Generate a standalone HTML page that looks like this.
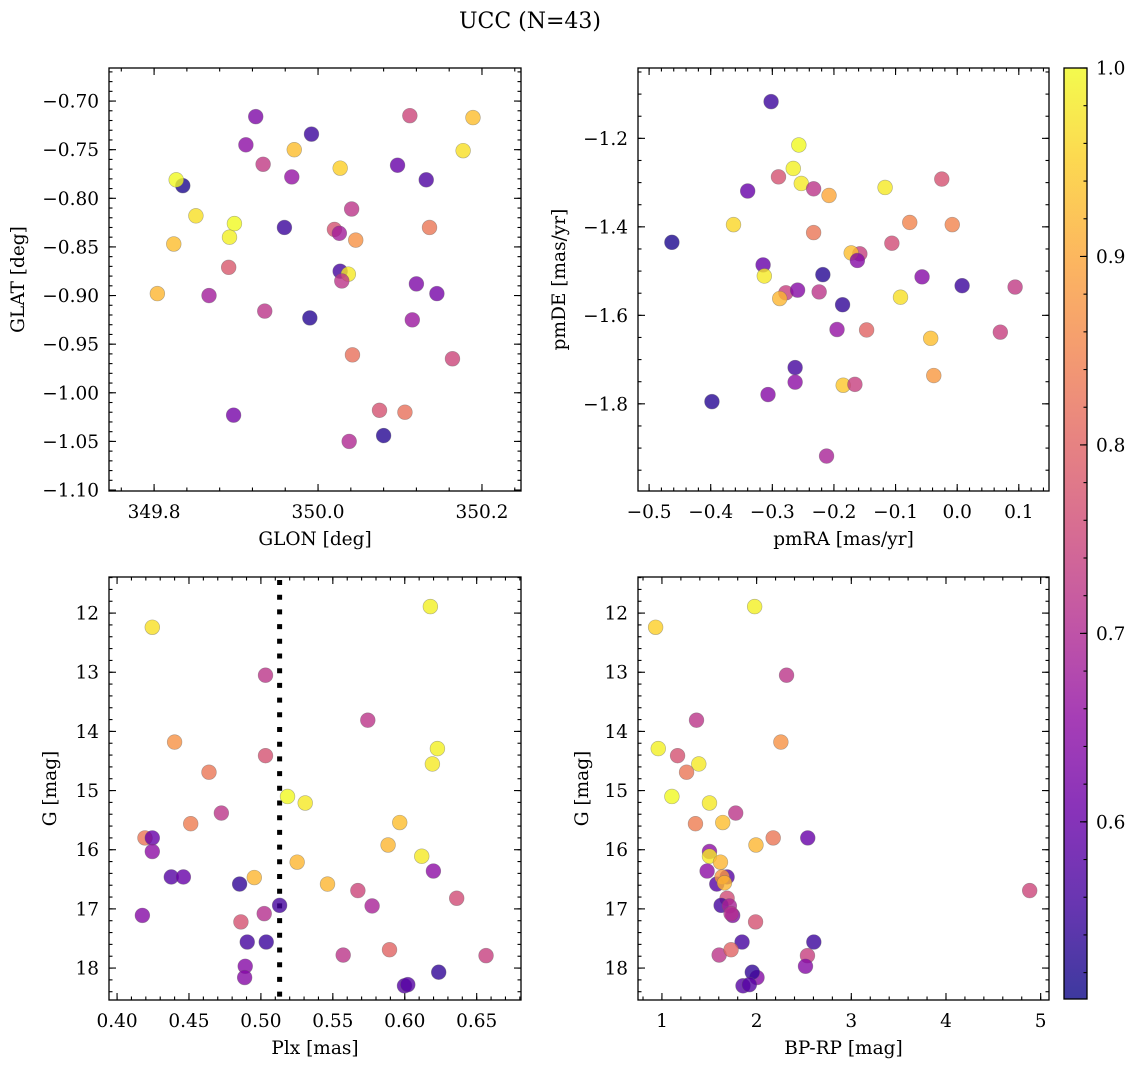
<!DOCTYPE html>
<html><head><meta charset="utf-8">
<style>
html,body{margin:0;padding:0;background:#fff;}
svg text{font-family:"DejaVu Serif","Liberation Serif",serif;fill:#000;}
</style></head>
<body>
<svg id="fig" width="1136" height="1067" viewBox="0 0 1136 1067" xmlns="http://www.w3.org/2000/svg">
<text x="530" y="28" font-size="22" text-anchor="middle">UCC (N=43)</text>
</svg>
<script>
// ---------- Panel 1: GLON vs GLAT ----------
const p1_glon=[349.835,349.827,349.824,349.804,349.851,349.898,349.892,349.891,349.867,349.924,349.912,349.933,349.971,349.968,349.992,349.959,349.935,349.897,349.990,350.020,350.026,350.027,350.041,350.046,350.027,350.037,350.029,350.042,350.038,350.080,350.075,350.106,350.112,350.097,350.132,350.136,350.120,350.145,350.115,350.164,350.189,350.177];
const p1_glat=[-0.787,-0.781,-0.847,-0.898,-0.818,-0.826,-0.840,-0.871,-0.900,-0.716,-0.745,-0.765,-0.750,-0.778,-0.734,-0.830,-0.916,-1.023,-0.923,-0.832,-0.836,-0.769,-0.811,-0.843,-0.875,-0.878,-0.885,-0.961,-1.050,-1.044,-1.018,-1.020,-0.715,-0.766,-0.781,-0.830,-0.888,-0.898,-0.925,-0.965,-0.717,-0.751];
const p1_prob=[0.52,1.0,0.93,0.92,0.97,1.0,0.99,0.78,0.68,0.63,0.65,0.73,0.93,0.66,0.55,0.55,0.72,0.62,0.53,0.77,0.68,0.95,0.72,0.87,0.56,0.98,0.72,0.82,0.70,0.53,0.77,0.82,0.75,0.60,0.57,0.83,0.63,0.62,0.67,0.75,0.93,0.97];
// ---------- Panel 2: pmRA vs pmDE ----------
const p2_pmra=[-0.463,-0.302,-0.257,-0.266,-0.290,-0.253,-0.233,-0.340,-0.208,-0.117,-0.025,-0.363,-0.233,-0.077,-0.008,-0.106,-0.158,-0.172,-0.162,-0.315,-0.313,-0.218,-0.057,0.008,0.094,-0.278,-0.288,-0.259,-0.224,-0.186,-0.092,-0.195,-0.147,-0.043,0.070,-0.263,-0.263,-0.307,-0.398,-0.185,-0.166,-0.038,-0.212];
const p2_pmde=[-1.435,-1.117,-1.215,-1.268,-1.287,-1.302,-1.314,-1.319,-1.329,-1.311,-1.292,-1.395,-1.413,-1.390,-1.395,-1.437,-1.461,-1.459,-1.476,-1.486,-1.511,-1.508,-1.513,-1.533,-1.536,-1.549,-1.562,-1.543,-1.547,-1.576,-1.559,-1.632,-1.633,-1.652,-1.638,-1.718,-1.751,-1.779,-1.795,-1.758,-1.756,-1.736,-1.918];
const p2_prob=[0.52,0.55,1.0,0.99,0.77,0.98,0.72,0.60,0.90,0.98,0.77,0.96,0.83,0.85,0.85,0.76,0.74,0.93,0.64,0.60,0.98,0.53,0.64,0.55,0.73,0.74,0.92,0.64,0.72,0.54,0.97,0.66,0.80,0.93,0.74,0.56,0.65,0.64,0.53,0.94,0.74,0.88,0.69];
// ---------- Panel 3: Plx vs G ----------
const p3_plx=[0.4245,0.6178,0.5032,0.5743,0.4400,0.6227,0.5032,0.6192,0.4639,0.5185,0.5308,0.4725,0.4512,0.5965,0.4194,0.4245,0.4245,0.5884,0.6118,0.5252,0.6199,0.4377,0.4461,0.4852,0.4954,0.5463,0.5674,0.6361,0.5130,0.5773,0.4176,0.5023,0.4861,0.4905,0.5037,0.5572,0.5894,0.6565,0.4891,0.4887,0.6236,0.5998,0.6021];
const p3_g=[12.24,11.89,13.05,13.81,14.18,14.29,14.41,14.55,14.69,15.10,15.21,15.38,15.56,15.54,15.80,15.80,16.03,15.92,16.11,16.21,16.36,16.46,16.46,16.58,16.47,16.58,16.69,16.82,16.94,16.95,17.11,17.08,17.22,17.56,17.56,17.78,17.69,17.79,17.97,18.16,18.07,18.30,18.28];
const p3_prob=[0.97,0.99,0.72,0.72,0.87,0.99,0.77,0.98,0.83,1.0,0.98,0.72,0.84,0.93,0.83,0.60,0.65,0.92,0.98,0.92,0.65,0.58,0.60,0.54,0.92,0.92,0.75,0.76,0.56,0.69,0.64,0.71,0.77,0.56,0.55,0.72,0.80,0.74,0.64,0.64,0.54,0.58,0.58];
const p3_cut=[0.513];
// ---------- Panel 4: BP-RP vs G ----------
const p4_bprp=[0.933,1.979,2.316,1.365,2.256,0.961,1.165,1.389,1.260,1.105,1.502,1.779,1.354,1.642,2.175,2.540,1.502,1.993,1.502,1.618,1.477,1.688,1.579,1.635,1.660,4.884,1.688,1.625,1.712,1.747,1.730,1.989,1.846,2.604,1.604,1.730,2.537,2.516,2.004,1.954,1.856,1.923];
const p4_g=[12.24,11.89,13.05,13.81,14.18,14.29,14.41,14.55,14.69,15.10,15.21,15.38,15.56,15.54,15.80,15.80,16.03,15.92,16.11,16.21,16.36,16.46,16.58,16.46,16.56,16.69,16.82,16.94,16.95,17.11,17.08,17.22,17.56,17.56,17.78,17.69,17.79,17.97,18.16,18.07,18.30,18.28];
const p4_prob=[0.95,0.99,0.72,0.72,0.87,0.99,0.77,0.98,0.83,1.0,0.98,0.72,0.84,0.93,0.83,0.60,0.65,0.92,0.98,0.92,0.65,0.58,0.58,0.88,0.92,0.75,0.76,0.56,0.69,0.64,0.71,0.77,0.56,0.55,0.72,0.80,0.74,0.64,0.64,0.54,0.58,0.58];
// ---------- Colorbar ----------
const cb_ticks=[0.6,0.7,0.8,0.9,1.0];
const cb_min=0.506, cb_max=1.0;

const NS="http://www.w3.org/2000/svg";
const svg=document.getElementById('fig');
const TICK_FS=18.5, LABEL_FS=18.5;
function mk(tag,attrs,parent){const e=document.createElementNS(NS,tag);for(const k in attrs)e.setAttribute(k,attrs[k]);(parent||svg).appendChild(e);return e;}
const stops=[[13,8,135],[65,4,157],[106,0,168],[143,13,164],[177,42,144],[204,71,120],[225,100,98],[242,132,75],[252,166,54],[252,206,37],[240,249,33]];
function plasma(t){t=Math.max(0,Math.min(1,t));const f=t*10,i=Math.min(9,Math.floor(f)),u=f-i;const a=stops[i],b=stops[i+1];return 'rgb('+[0,1,2].map(k=>Math.round(a[k]+(b[k]-a[k])*u)).join(',')+')';}
function cmap(p){return plasma((p-cb_min)/(cb_max-cb_min));}
function fmt(v,d){const s=Math.abs(v).toFixed(d);return (v<-1e-9?'\u2212':'')+s;}

function panel(cfg){
  const g=mk('g',{});
  
  
  const X=v=>cfg.x+(v-cfg.xr[0])/(cfg.xr[1]-cfg.xr[0])*cfg.w;
  const Y=v=>cfg.invert? cfg.y+(v-cfg.yr[0])/(cfg.yr[1]-cfg.yr[0])*cfg.h : cfg.y+cfg.h-(v-cfg.yr[0])/(cfg.yr[1]-cfg.yr[0])*cfg.h;
  const tg=mk('g',{stroke:'#000','stroke-width':1.1},g);
  function ticksX(step,len,labels,dec){
    const s=Math.ceil(Math.min(...cfg.xr)/step-1e-6);
    for(let k=s;k*step<=Math.max(...cfg.xr)+1e-9;k++){const v=k*step,px=X(v);
      mk('line',{x1:px,x2:px,y1:cfg.y+cfg.h,y2:cfg.y+cfg.h-len},tg);mk('line',{x1:px,x2:px,y1:cfg.y,y2:cfg.y+len},tg);
      if(labels){const t=mk('text',{x:px,y:cfg.y+cfg.h+27,'font-size':TICK_FS,'text-anchor':'middle'},g);t.textContent=fmt(v,dec);
        }}
  }
  function ticksY(step,len,labels,dec){
    const lo=Math.min(...cfg.yr),hi=Math.max(...cfg.yr);const s=Math.ceil(lo/step-1e-6);
    for(let k=s;k*step<=hi+1e-9;k++){const v=k*step,py=Y(v);
      mk('line',{x1:cfg.x,x2:cfg.x+len,y1:py,y2:py},tg);mk('line',{x1:cfg.x+cfg.w,x2:cfg.x+cfg.w-len,y1:py,y2:py},tg);
      if(labels){const t=mk('text',{x:cfg.x-10,y:py+6.5,'font-size':TICK_FS,'text-anchor':'end'},g);t.textContent=fmt(v,dec);
        }}
  }
  ticksX(cfg.xmin,3.5,false);ticksX(cfg.xmaj,7,true,cfg.xdec);
  ticksY(cfg.ymin,3.5,false);ticksY(cfg.ymaj,7,true,cfg.ydec);
  if(cfg.vline){for(const v of cfg.vline){const l=mk('line',{x1:X(v),x2:X(v),y1:cfg.y+3,y2:cfg.y+cfg.h,stroke:'#000','stroke-width':5,'stroke-dasharray':'5 9.7'},g);
    }}
  const pg=mk('g',{},g);
  
  for(let i=0;i<cfg.xs.length;i++){
    const c=mk('circle',{cx:X(cfg.xs[i]),cy:Y(cfg.ys[i]),r:7.4,fill:cmap(cfg.cs[i]),'fill-opacity':0.8,stroke:'#666','stroke-opacity':0.5,'stroke-width':0.6},pg);
    
    
  }
  const fr=mk('rect',{x:cfg.x,y:cfg.y,width:cfg.w,height:cfg.h,fill:'none',stroke:'#000','stroke-width':1.3},g);
  
  const xl=mk('text',{x:cfg.x+cfg.w/2,y:cfg.y+cfg.h+54,'font-size':LABEL_FS,'text-anchor':'middle'},g);xl.textContent=cfg.xlabel;
  
  const yl=mk('text',{x:0,y:0,'font-size':LABEL_FS,'text-anchor':'middle',transform:'translate('+cfg.ylx+','+(cfg.y+cfg.h/2)+') rotate(-90)'},g);yl.textContent=cfg.ylabel;
  
}

panel({name:'glon-glat-panel',x:109,y:68,w:412,h:423,xr:[349.745,350.2476],yr:[-1.101,-0.666],xs:p1_glon,ys:p1_glat,cs:p1_prob,
  xmaj:0.2,xmin:0.04,xdec:1,ymaj:0.05,ymin:0.01,ydec:2,xlabel:'GLON [deg]',ylabel:'GLAT [deg]',ylx:24});
panel({name:'pm-panel',x:638,y:68,w:411,h:423,xr:[-0.518,0.149],yr:[-1.997,-1.041],xs:p2_pmra,ys:p2_pmde,cs:p2_prob,
  xmaj:0.1,xmin:0.02,xdec:1,ymaj:0.2,ymin:0.05,ydec:1,xlabel:'pmRA [mas/yr]',ylabel:'pmDE [mas/yr]',ylx:565});
panel({name:'plx-g-panel',x:109,y:577,w:412,h:423,xr:[0.3944,0.6808],yr:[11.39,18.54],invert:true,xs:p3_plx,ys:p3_g,cs:p3_prob,
  xmaj:0.05,xmin:0.01,xdec:2,ymaj:1,ymin:0.2,ydec:0,xlabel:'Plx [mas]',ylabel:'G [mag]',ylx:56,vline:p3_cut});
panel({name:'cmd-panel',x:638,y:577,w:411,h:423,xr:[0.747,5.088],yr:[11.39,18.54],invert:true,xs:p4_bprp,ys:p4_g,cs:p4_prob,
  xmaj:1,xmin:0.2,xdec:0,ymaj:1,ymin:0.2,ydec:0,xlabel:'BP-RP [mag]',ylabel:'G [mag]',ylx:588});

(function(){
  const cx=1064,cy=68,cw=23,ch=931;
  const g=mk('g',{});
  
  const defs=mk('defs',{},g);
  const lg=mk('linearGradient',{id:'cbg',x1:0,y1:1,x2:0,y2:0},defs);
  for(let i=0;i<=20;i++){mk('stop',{offset:i/20,'stop-color':plasma(i/20),'stop-opacity':0.8},lg);}
  mk('rect',{x:cx,y:cy,width:cw,height:ch,fill:'url(#cbg)'},g);
  const Y=v=>cy+ch-(v-cb_min)/(cb_max-cb_min)*ch;
  for(let v=0.52;v<=1.0001;v+=0.02){mk('line',{x1:cx+cw,x2:cx+cw-3.5,y1:Y(v),y2:Y(v),stroke:'#000','stroke-width':1.1},g);}
  for(const v of cb_ticks){mk('line',{x1:cx+cw,x2:cx+cw-7,y1:Y(v),y2:Y(v),stroke:'#000','stroke-width':1.1},g);
    const t=mk('text',{x:cx+cw+9,y:Y(v)+6.5,'font-size':TICK_FS},g);t.textContent=v.toFixed(1);
    }
  mk('rect',{x:cx,y:cy,width:cw,height:ch,fill:'none',stroke:'#000','stroke-width':1.3},g);
})();
</script>
</body></html>
